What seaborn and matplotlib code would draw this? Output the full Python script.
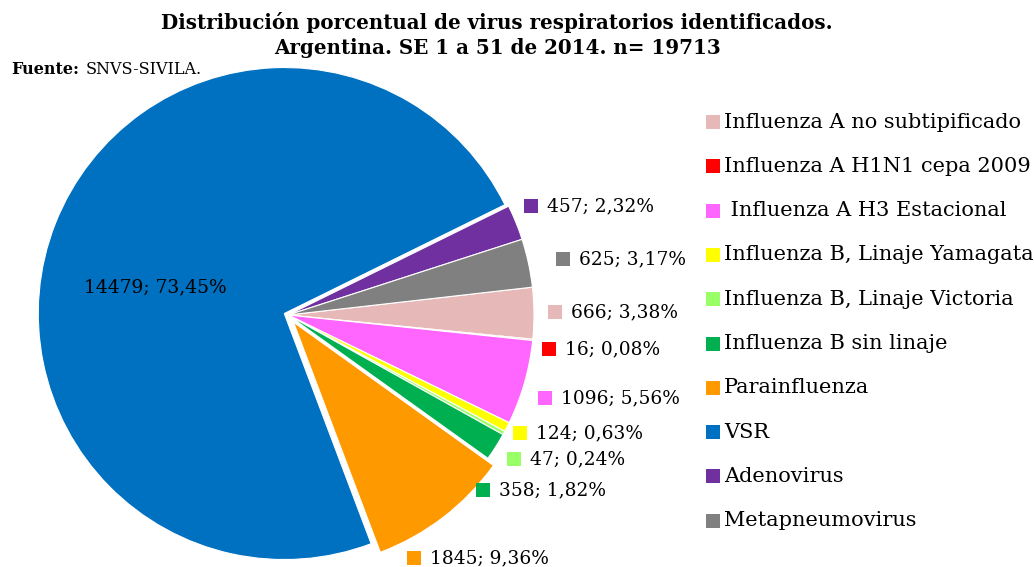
import matplotlib
matplotlib.use("Agg")
import matplotlib.pyplot as plt
import seaborn as sns

# Data: respiratory viruses identified, Argentina, epi weeks 1-51 of 2014
categories = [
    "Influenza A no subtipificado",
    "Influenza A H1N1 cepa 2009",
    " Influenza A H3 Estacional",
    "Influenza B, Linaje Yamagata",
    "Influenza B, Linaje Victoria",
    "Influenza B sin linaje",
    "Parainfluenza",
    "VSR",
    "Adenovirus",
    "Metapneumovirus",
]
counts = [666, 16, 1096, 124, 47, 358, 1845, 14479, 457, 625]
colors = ["#E6B9B8", "#FF0000", "#FF66FF", "#FFFF00", "#99FF66",
          "#00B050", "#FF9900", "#0070C0", "#7030A0", "#808080"]

title = ("Distribución porcentual de virus respiratorios identificados.\n"
         "Argentina. SE 1 a 51 de 2014. n= 19713")

# ---- layout (pixel coordinates, y measured from the top) ----
W, H = 1034, 567
PIE_CENTER = (288, 315)
PIE_RADIUS = 246
EXPLODE_PX = [0, 0, 0, 0, 0, 0, 9, 4, 0, 0]
# marker centre for each data label (VSR: text centre, no key square)
LABEL_POS = [(555, 312), (549, 349), (545, 398), (520, 433), (514, 459),
             (483, 490), (414, 558), (155, 287), (531, 206), (563, 259)]
LEGEND_X, LEGEND_Y0, LEGEND_DY = 713, 122, 44.3

sns.set_style("white")
plt.rcParams["font.family"] = ["DejaVu Serif"]

FS_LABEL = 13.4
FS_LEGEND = 15
FS_TITLE = 14.3
FS_SOURCE = 11.5

fig = plt.figure(figsize=(W / 100, H / 100), dpi=100)
ax = fig.add_axes([0, 0, 1, 1])


def py(y):
    return H - y


total = sum(counts)
wedges, _ = ax.pie(
    counts,
    colors=colors,
    startangle=6.5,
    counterclock=False,
    radius=PIE_RADIUS,
    center=(PIE_CENTER[0], py(PIE_CENTER[1])),
    explode=EXPLODE_PX,
    wedgeprops=dict(edgecolor="white", linewidth=0.8),
)
ax.set_xlim(0, W)
ax.set_ylim(0, H)
ax.set_aspect("auto")
ax.axis("off")

# data labels: "count; percent%" with a colour key square
for i, (n, c) in enumerate(zip(counts, colors)):
    pct = f"{100 * n / total:.2f}".replace(".", ",")
    txt = f"{n}; {pct}%"
    x, y = LABEL_POS[i]
    if categories[i] == "VSR":
        ax.text(x, py(y), txt, ha="center", va="center", fontsize=FS_LABEL,
                color="black")
    else:
        ax.scatter([x], [py(y)], marker="s", s=90, color=c, linewidths=0)
        ax.text(x + 16, py(y), txt, ha="left", va="center",
                fontsize=FS_LABEL, color="black")

# legend
for i, (cat, c) in enumerate(zip(categories, colors)):
    y = LEGEND_Y0 + i * LEGEND_DY
    ax.scatter([LEGEND_X], [py(y)], marker="s", s=105, color=c, linewidths=0)
    ax.text(LEGEND_X + 11, py(y), cat, ha="left", va="center",
            fontsize=FS_LEGEND, color="black")

# title and source
ax.text(497, py(12), title, ha="center", va="top", fontsize=FS_TITLE,
        fontweight="bold", linespacing=1.3, color="black")
src = ax.text(11, py(70), "Fuente:", ha="left", va="center",
              fontsize=FS_SOURCE, fontweight="bold", color="black")
ax.annotate("SNVS-SIVILA.", xy=(1, 0.5), xycoords=src, xytext=(5, 0),
            textcoords="offset points", ha="left", va="center",
            fontsize=FS_SOURCE, color="black")

fig.savefig("out.png", dpi=100)
